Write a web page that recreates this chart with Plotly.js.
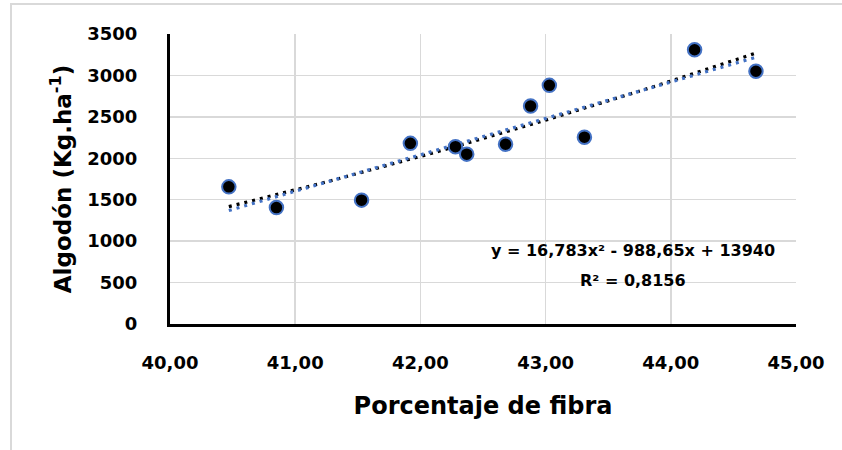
<!DOCTYPE html>
<html>
<head>
<meta charset="utf-8">
<script src="https://cdn.plot.ly/plotly-3.0.1.min.js"></script>
<style>
  html, body { margin: 0; padding: 0; background: #fff; overflow: hidden; }
  #chart { position: absolute; left: 0; top: 0; width: 842px; height: 450px; }
  #frame { position: absolute; left: 10px; top: 3px; width: 900px; height: 500px;
           border-left: 2px solid #d9d9d9; border-top: 2px solid #d9d9d9; pointer-events: none; }
</style>
</head>
<body>
<div id="chart"></div>
<div id="frame"></div>
<script>
// Fibre percentage vs. cotton yield (kg/ha)
const fibra = [40.47, 40.85, 41.53, 41.92, 42.28, 42.37, 42.68, 42.88, 43.03, 43.31, 44.19, 44.68];
const algodon = [1655, 1405, 1495, 2180, 2140, 2050, 2170, 2630, 2880, 2255, 3310, 3050];

// Quadratic trend coefficients (as printed on the chart)
const polyA = 16.783, polyB = -988.65, polyC = 13940;
const r2 = 0.8156;

const xTicks = [40, 41, 42, 43, 44, 45];
const xTickText = ['40,00', '41,00', '42,00', '43,00', '44,00', '45,00'];
const yTicks = [0, 500, 1000, 1500, 2000, 2500, 3000, 3500];

const FONT = '"DejaVu Sans", sans-serif';
const bold = s => '<b>' + s + '</b>';

// sample the quadratic between the first and last observation
const xMin = Math.min(...fibra), xMax = Math.max(...fibra);
const polyX = [], polyY = [];
for (let i = 0; i <= 60; i++) {
  const x = xMin + (xMax - xMin) * i / 60;
  polyX.push(x);
  polyY.push(polyA * x * x + polyB * x + polyC);
}

// least-squares straight line through the observations
const n = fibra.length;
const mx = fibra.reduce((s, v) => s + v, 0) / n;
const my = algodon.reduce((s, v) => s + v, 0) / n;
let sxy = 0, sxx = 0;
for (let i = 0; i < n; i++) {
  sxy += (fibra[i] - mx) * (algodon[i] - my);
  sxx += (fibra[i] - mx) ** 2;
}
const slope = sxy / sxx, icpt = my - slope * mx;
const linX = [xMin, xMax];
const linY = linX.map(x => slope * x + icpt);

const traces = [
  { x: polyX, y: polyY, mode: 'lines', hoverinfo: 'skip',
    line: { color: '#000000', width: 3.2, dash: '3px,5px' } },
  { x: linX, y: linY, mode: 'lines', hoverinfo: 'skip',
    line: { color: '#4472C4', width: 3.2, dash: '3px,5px' } },
  { x: fibra, y: algodon, mode: 'markers',
    marker: { size: 13.5, color: '#000000', line: { color: '#4472C4', width: 2 } } }
];

const fmt = v => String(v).replace('.', ',');

const layout = {
  width: 842, height: 450,
  margin: { l: 170, r: 46, t: 34, b: 126 },
  paper_bgcolor: '#ffffff', plot_bgcolor: '#ffffff',
  showlegend: false,
  font: { family: FONT, color: '#000000' },
  xaxis: {
    range: [40, 45], tickvals: xTicks, ticktext: xTickText.map(bold),
    showgrid: true, gridcolor: '#d9d9d9', gridwidth: 1.5,
    showline: true, linecolor: '#000000', linewidth: 3, zeroline: false,
    ticks: 'outside', ticklen: 20, tickcolor: 'rgba(0,0,0,0)',
    tickfont: { family: FONT, size: 18, color: '#000000' },
    title: { text: bold('Porcentaje de fibra'), font: { family: FONT, size: 24, color: '#000000' }, standoff: 26 }
  },
  yaxis: {
    range: [0, 3500], tickvals: yTicks, ticktext: yTicks.map(v => bold(String(v))),
    showgrid: true, gridcolor: '#d9d9d9', gridwidth: 1.5,
    showline: true, linecolor: '#000000', linewidth: 3, zeroline: false,
    ticks: 'outside', ticklen: 26, tickcolor: 'rgba(0,0,0,0)',
    tickfont: { family: FONT, size: 18, color: '#000000' },
    title: { text: bold('Algodón (Kg.ha<sup>-1</sup>)'), font: { family: FONT, size: 23, color: '#000000' }, standoff: 10 }
  },
  annotations: [
    { xref: 'x', yref: 'y', x: 43.7, y: 890, showarrow: false,
      text: bold('y = ' + fmt(polyA) + 'x² - ' + fmt(-polyB) + 'x + ' + polyC),
      font: { family: FONT, size: 16, color: '#000000' } },
    { xref: 'x', yref: 'y', x: 43.7, y: 530, showarrow: false,
      text: bold('R² = ' + fmt(r2)),
      font: { family: FONT, size: 16, color: '#000000' } }
  ]
};

Plotly.newPlot('chart', traces, layout, { displayModeBar: false, staticPlot: true });
</script>
</body>
</html>
